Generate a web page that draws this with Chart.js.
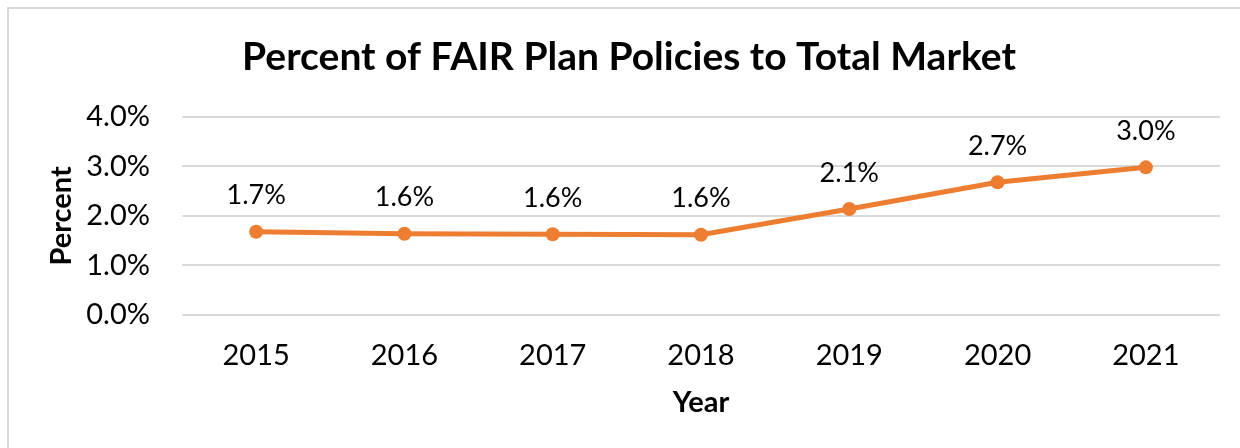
<!DOCTYPE html>
<html>
<head>
<meta charset="utf-8">
<script src="https://cdn.jsdelivr.net/npm/chart.js@4.4.1/dist/chart.umd.min.js"></script>
<style>
  body { margin: 0; background: #fff; }
  #frame { position: absolute; left: 7px; top: 7px; width: 1260px; height: 480px; border: 2px solid #d9d9d9; }
  #chart { position: absolute; left: 0; top: 0; }
</style>
</head>
<body>
<div id="frame"></div>
<canvas id="chart" width="1240" height="448"></canvas>
<script>
var years = ['2015', '2016', '2017', '2018', '2019', '2020', '2021'];
var percentValues = [1.68, 1.64, 1.63, 1.62, 2.14, 2.68, 2.98];
var yTicks = [0, 1, 2, 3, 4];

var fontFamily = 'Lato, "Open Sans", sans-serif';

// labels above each point, like the Excel data labels
var pointLabels = {
  id: 'pointLabels',
  afterDatasetsDraw: function(chart) {
    var ctx = chart.ctx;
    var meta = chart.getDatasetMeta(0);
    ctx.save();
    ctx.font = '27px ' + fontFamily;
    ctx.fillStyle = '#000';
    ctx.textAlign = 'center';
    ctx.textBaseline = 'middle';
    meta.data.forEach(function(pt, i) {
      ctx.fillText(percentValues[i].toFixed(1) + '%', pt.x, pt.y - 36);
    });
    ctx.restore();
  }
};

// title sits a bit right of the canvas centre in the original
var shiftTitle = {
  id: 'shiftTitle',
  afterLayout: function(chart) {
    if (chart.titleBlock) {
      chart.titleBlock.left += 19;
      chart.titleBlock.right += 19;
    }
  }
};

var ctx = document.getElementById('chart').getContext('2d');
var fairChart = new Chart(ctx, {
  type: 'line',
  data: {
    labels: years,
    datasets: [{
      label: 'Percent',
      data: percentValues,
      borderColor: '#ED7D31',
      backgroundColor: '#ED7D31',
      borderWidth: 5,
      pointRadius: 7,
      pointBorderWidth: 0,
      fill: false,
      tension: 0
    }]
  },
  options: {
    responsive: false,
    animation: false,
    layout: { padding: { left: 0, right: 20, top: 0, bottom: 0 } },
    scales: {
      x: {
        offset: true,
        grid: { display: false, drawTicks: false },
        border: { display: false },
        ticks: { color: '#000', font: { family: fontFamily, size: 29 }, padding: 23 },
        title: { display: true, text: 'Year', color: '#000', font: { family: fontFamily, size: 29, weight: 'bold' }, padding: { top: 0, bottom: 28 } },
        afterFit: function(scale) { scale.height = 133; }
      },
      y: {
        min: 0,
        max: 4,
        afterBuildTicks: function(scale) {
          scale.ticks = yTicks.map(function(v) { return { value: v }; });
        },
        grid: { color: '#d9d9d9', lineWidth: 2, drawTicks: false },
        border: { display: false },
        ticks: {
          color: '#000',
          font: { family: fontFamily, size: 29 },
          padding: 32,
          callback: function(v) { return v.toFixed(1) + '%'; }
        },
        title: { display: true, text: 'Percent', color: '#000', font: { family: fontFamily, size: 29, weight: 'bold' }, padding: { top: 44, bottom: 0 } },
        afterFit: function(scale) { scale.width = 182; }
      }
    },
    plugins: {
      legend: { display: false },
      tooltip: { enabled: false },
      title: {
        display: true,
        text: 'Percent of FAIR Plan Policies to Total Market',
        color: '#000',
        font: { family: fontFamily, size: 39, weight: 'bold' },
        padding: { top: 34, bottom: 36 }
      }
    }
  },
  plugins: [pointLabels, shiftTitle]
});
</script>
</body>
</html>
